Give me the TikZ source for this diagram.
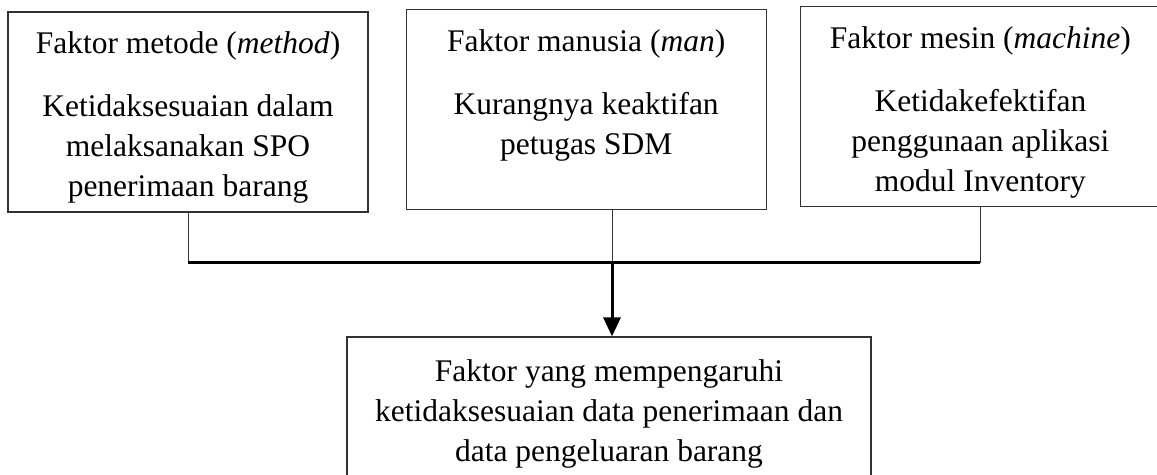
\documentclass[tikz,border=0pt]{standalone}
\usepackage{fontspec}
\setmainfont{Liberation Serif}
\usetikzlibrary{arrows.meta, positioning}

\begin{document}
\begin{tikzpicture}[
    x = 0.5pt, y = -0.5pt,
    node distance = 18pt,
    factor/.style = {draw=black!80, line width=0.6pt, rectangle, minimum width=180pt, minimum height=100pt, inner sep=0pt},
    txt/.style = {align=center, inner sep=0pt, font=\fontsize{15.75}{20}\selectfont},
    wire/.style = {line width=0.5pt, draw=black!80},
    bus/.style = {line width=1.5pt},
    line/.style = {-{Triangle[length=9.5pt, width=8.5pt]}, line width=1.5pt}
]
    \useasboundingbox (0,0) rectangle (1157,475);

    % Nodes
    \node [factor] (method) at (188,112) {};
    \node [factor, right=18.5pt of method, yshift=1.25pt] (man) {};
    \node [factor, right=16.5pt of man, yshift=1.5pt] (machine) {};
    \node [factor, minimum width=262pt, minimum height=74pt] (result) at (609,411) {};

    \node [txt, below=10pt of method.north] (methodtxt) {Faktor metode (\textit{method})\\[11.5pt]Ketidaksesuaian dalam\\melaksanakan SPO\\penerimaan barang};
    \node [txt, below=10pt of man.north] (mantxt) {Faktor manusia (\textit{man})\\[11.5pt]Kurangnya keaktifan\\petugas SDM};
    \node [txt, below=10pt of machine.north] (machinetxt) {Faktor mesin (\textit{machine})\\[11.5pt]Ketidakefektifan\\penggunaan aplikasi\\modul Inventory};
    \node [txt, below=11.5pt of result.north] (resulttxt) {Faktor yang mempengaruhi\\ketidaksesuaian data penerimaan dan\\data pengeluaran barang};

    % Edges
    \coordinate (join) at (612,263);
    \draw [wire] (method.south) -- (method.south |- join);
    \draw [wire] (man.south -| join) -- (join);
    \draw [wire] (machine.south) -- (machine.south |- join);
    \draw [bus] (method.south |- join) -- (machine.south |- join);
    \draw [line] (join) -- (join |- result.north);

\end{tikzpicture}
\end{document}
